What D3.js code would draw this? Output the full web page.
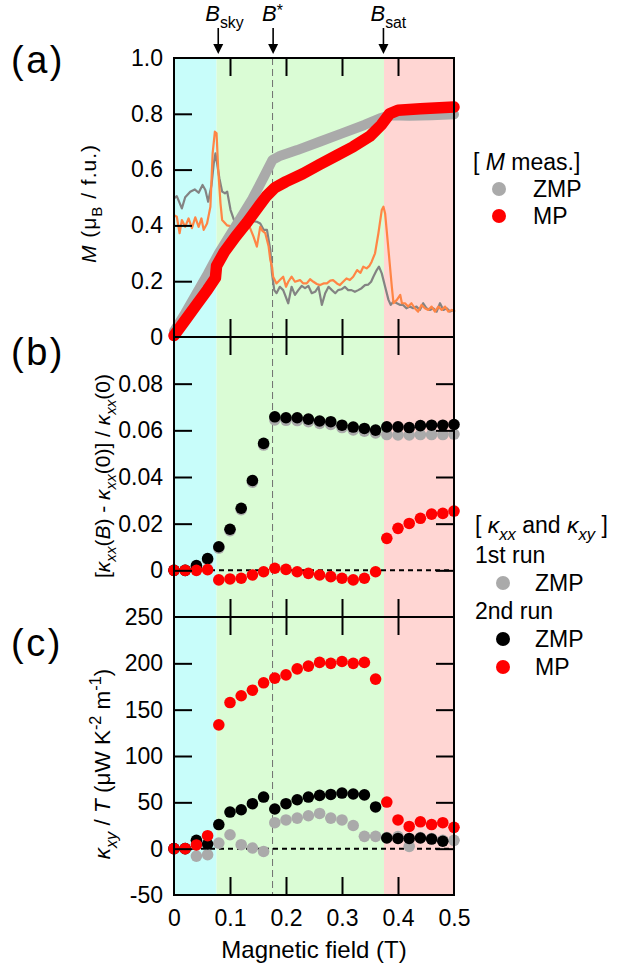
<!DOCTYPE html>
<html>
<head>
<meta charset="utf-8">
<script src="https://cdn.jsdelivr.net/npm/d3@7"></script>
<style>
  html, body { margin: 0; padding: 0; background: #fff; }
  svg { display: block; }
  text { font-family: "Liberation Sans", Arial, Helvetica, sans-serif; fill: #000; }
</style>
</head>
<body>
<svg id="chart" width="622" height="974"></svg>
<script>
// ---- tick values ----
const fieldTicks = [0, 0.1, 0.2, 0.3, 0.4, 0.5];
const mTicks = [0, 0.2, 0.4, 0.6, 0.8, 1.0];
const kxxTicks = [0, 0.02, 0.04, 0.06, 0.08];
const kxyTicks = [-50, 0, 50, 100, 150, 200, 250];

// ---- field regions and characteristic fields (T) ----
const regionEdges = [0, 0.076, 0.375, 0.5];
const regionColors = ["#c8fdfa", "#dafcd5", "#ffd6d3"];
const markerNames = ["sky", "star", "sat"];
const markerFields = [0.079, 0.177, 0.374];
const bStar = 0.176;

// ---- magnetization M (μB / f.u.) ----
const mZmp = [[0.000,0.020],[0.020,0.085],[0.040,0.155],[0.060,0.225],[0.080,0.300],[0.100,0.365],[0.120,0.430],[0.140,0.495],[0.160,0.572],[0.176,0.635],[0.190,0.650],[0.220,0.670],[0.260,0.700],[0.300,0.730],[0.340,0.760],[0.370,0.785],[0.385,0.795],[0.420,0.793],[0.460,0.795],[0.500,0.798]];
const mMp = [[0.000,0.005],[0.020,0.060],[0.040,0.115],[0.060,0.170],[0.074,0.212],[0.076,0.255],[0.090,0.305],[0.110,0.360],[0.130,0.410],[0.150,0.465],[0.165,0.505],[0.180,0.535],[0.200,0.557],[0.230,0.585],[0.260,0.618],[0.290,0.650],[0.320,0.682],[0.350,0.720],[0.370,0.760],[0.385,0.800],[0.400,0.813],[0.440,0.818],[0.500,0.824]];

// ---- dM/dB traces (arb. units, on the M axis) ----
const dmZmp = [[0.000,0.497],[0.005,0.505],[0.014,0.461],[0.020,0.501],[0.029,0.521],[0.037,0.529],[0.044,0.517],[0.051,0.545],[0.056,0.527],[0.061,0.485],[0.067,0.545],[0.071,0.622],[0.074,0.658],[0.077,0.622],[0.081,0.569],[0.086,0.521],[0.091,0.515],[0.095,0.521],[0.101,0.455],[0.107,0.420],[0.115,0.405],[0.125,0.410],[0.135,0.400],[0.142,0.415],[0.148,0.413],[0.154,0.407],[0.160,0.384],[0.166,0.384],[0.172,0.312],[0.175,0.228],[0.179,0.168],[0.183,0.157],[0.189,0.180],[0.195,0.168],[0.204,0.121],[0.210,0.180],[0.216,0.151],[0.222,0.168],[0.228,0.183],[0.234,0.175],[0.240,0.183],[0.246,0.157],[0.252,0.162],[0.258,0.180],[0.264,0.115],[0.270,0.157],[0.276,0.180],[0.282,0.168],[0.288,0.157],[0.293,0.168],[0.299,0.171],[0.305,0.180],[0.311,0.168],[0.317,0.168],[0.323,0.162],[0.329,0.168],[0.335,0.175],[0.341,0.186],[0.347,0.188],[0.352,0.198],[0.356,0.216],[0.362,0.240],[0.366,0.252],[0.371,0.228],[0.377,0.180],[0.383,0.133],[0.387,0.115],[0.392,0.127],[0.398,0.121],[0.404,0.115],[0.409,0.115],[0.415,0.103],[0.421,0.109],[0.427,0.103],[0.433,0.109],[0.439,0.097],[0.445,0.121],[0.451,0.103],[0.457,0.097],[0.463,0.103],[0.469,0.091],[0.475,0.121],[0.481,0.097],[0.487,0.103],[0.493,0.091],[0.499,0.097]];
const dmMp = [[0.000,0.437],[0.005,0.431],[0.010,0.372],[0.014,0.419],[0.020,0.395],[0.026,0.425],[0.032,0.390],[0.038,0.429],[0.044,0.395],[0.049,0.425],[0.053,0.384],[0.059,0.407],[0.065,0.467],[0.069,0.658],[0.073,0.736],[0.076,0.730],[0.079,0.599],[0.083,0.479],[0.086,0.419],[0.095,0.400],[0.105,0.395],[0.115,0.405],[0.125,0.400],[0.135,0.395],[0.142,0.360],[0.148,0.324],[0.154,0.395],[0.158,0.380],[0.163,0.372],[0.169,0.324],[0.172,0.276],[0.175,0.252],[0.177,0.216],[0.183,0.192],[0.189,0.204],[0.195,0.216],[0.200,0.180],[0.204,0.198],[0.210,0.216],[0.216,0.198],[0.225,0.204],[0.231,0.192],[0.237,0.192],[0.243,0.207],[0.249,0.198],[0.255,0.190],[0.261,0.186],[0.267,0.192],[0.273,0.192],[0.279,0.202],[0.284,0.204],[0.291,0.192],[0.296,0.186],[0.302,0.198],[0.308,0.210],[0.314,0.204],[0.320,0.216],[0.327,0.240],[0.333,0.230],[0.338,0.252],[0.344,0.246],[0.349,0.255],[0.353,0.270],[0.359,0.300],[0.365,0.372],[0.371,0.455],[0.374,0.467],[0.377,0.443],[0.383,0.312],[0.389,0.180],[0.392,0.121],[0.398,0.133],[0.404,0.151],[0.407,0.121],[0.4125,0.121],[0.418,0.109],[0.424,0.121],[0.430,0.103],[0.436,0.091],[0.442,0.115],[0.448,0.103],[0.454,0.097],[0.460,0.109],[0.466,0.091],[0.472,0.109],[0.478,0.097],[0.484,0.109],[0.490,0.091],[0.496,0.097],[0.502,0.091]];

// ---- thermal conductivity runs, field steps of 0.02 T ----
const runFields = [0, 0.02, 0.04, 0.06, 0.08, 0.10, 0.12, 0.14, 0.16, 0.18, 0.20, 0.22, 0.24, 0.26, 0.28, 0.30, 0.32, 0.34, 0.36, 0.38, 0.40, 0.42, 0.44, 0.46, 0.48, 0.50];

// [κxx(B) - κxx(0)] / κxx(0)
const kxxRun1Zmp = [0, 0, 0.0015, 0.0045, 0.0095, 0.017, 0.026, 0.0378, 0.0537, 0.0645, 0.0643, 0.0642, 0.0637, 0.063, 0.0625, 0.0612, 0.0602, 0.0596, 0.0589, 0.0582, 0.058, 0.058, 0.0582, 0.0582, 0.0582, 0.0584];
const kxxRun2Zmp = [0, 0, 0.002, 0.005, 0.0101, 0.0176, 0.0266, 0.0385, 0.0544, 0.0658, 0.0654, 0.0654, 0.0648, 0.064, 0.0637, 0.0622, 0.0614, 0.0608, 0.0601, 0.0615, 0.0615, 0.0612, 0.062, 0.0622, 0.0622, 0.0625];
const kxxRun2Mp = [0, 0, 0, 0.0003, -0.0041, -0.0037, -0.0034, -0.002, -0.0006, 0.0009, 0.0004, -0.0006, -0.0013, -0.002, -0.0027, -0.0034, -0.0041, -0.0034, -0.0006, 0.0137, 0.018, 0.0201, 0.0223, 0.0241, 0.0244, 0.0254];

// κxy / T (μW K^-2 m^-1)
const kxyRun1Zmp = [0, 0, -8, -6.5, 6, 15, 4.3, 0.7, -3, 28, 31, 33, 35.5, 38, 33, 31, 25, 13.3, 13.3, 12, 13, 2.5, 12, 11, 9, 9];
const kxyRun2Zmp = [0, 0, 9, 5, 26, 39.5, 42, 48.5, 55.7, 42.8, 48.5, 52.8, 55.7, 57.5, 58.5, 60, 59, 58, 45, 11.5, 11, 11, 11.5, 10.4, 8, null];
const kxyRun2Mp = [0, 0, 4, 14, 133.6, 157.7, 165, 171, 179, 184, 187.5, 194, 197, 201, 200, 202, 200, 201, 183, 50.3, 31, 24, 29, 26, 28, 23];

// ---- layout ----
const FONT = "\"Liberation Sans\", Arial, Helvetica, sans-serif";
const plotLeft = 174, plotRight = 454;
const panels = [
  { key: "a", top: 58, bottom: 337 },
  { key: "b", top: 337, bottom: 617 },
  { key: "c", top: 617, bottom: 895 }
];
const colGrayDot = "#aaaaaa", colBlack = "#000000", colRed = "#ff0000";
const colGrayLine = "#838383", colOrange = "#ff8545";

const svg = d3.select("#chart");
const x = d3.scaleLinear().domain([0, 0.5]).range([plotLeft, plotRight]);
const yA = d3.scaleLinear().domain([0, 1.0]).range([panels[0].bottom, panels[0].top]);
const yB = d3.scaleLinear().domain([-0.02, 0.1]).range([panels[1].bottom, panels[1].top]);
const yC = d3.scaleLinear().domain([-50, 250]).range([panels[2].bottom, panels[2].top]);

// rich text helper: segments {t, it, sub, sup, shift}
function richText(sel, segs, size) {
  let shift = 0;
  segs.forEach(s => {
    const ts = sel.append("tspan").text(s.t);
    let target = s.sub ? size * 0.3 : s.sup ? -size * (s.shift || 0.42) : 0;
    const dy = target - shift;
    if (dy !== 0) ts.attr("dy", dy);
    shift = target;
    ts.attr("font-size", (s.sub || s.sup) ? size * 0.72 : size);
    if (s.it) ts.attr("font-style", "italic");
  });
  return sel;
}

// ---- background regions ----
panels.forEach(p => {
  const g = svg.append("g");
  regionColors.forEach((c, i) => {
    g.append("rect")
      .attr("x", x(regionEdges[i]))
      .attr("y", p.top)
      .attr("width", x(regionEdges[i + 1]) - x(regionEdges[i]))
      .attr("height", p.bottom - p.top)
      .attr("fill", c);
  });
  // B* guide
  g.append("line")
    .attr("x1", x(bStar)).attr("x2", x(bStar))
    .attr("y1", p.top).attr("y2", p.bottom)
    .attr("stroke", "#707070").attr("stroke-width", 1)
    .attr("stroke-dasharray", "7,4");
});

// zero lines in (b) and (c)
[[yB, 0], [yC, 0]].forEach(([ys, v]) => {
  svg.append("line")
    .attr("x1", plotLeft).attr("x2", plotRight)
    .attr("y1", ys(v)).attr("y2", ys(v))
    .attr("stroke", "#000").attr("stroke-width", 2)
    .attr("stroke-dasharray", "5,4");
});

// ---- panel (a): magnetization and dM/dB ----
const lineA = d3.line().x(d => x(d[0])).y(d => yA(d[1]));
svg.append("path").datum(dmZmp).attr("d", lineA)
  .attr("fill", "none").attr("stroke", colGrayLine).attr("stroke-width", 2.2).attr("stroke-linejoin", "round");
svg.append("path").datum(dmMp).attr("d", lineA)
  .attr("fill", "none").attr("stroke", colOrange).attr("stroke-width", 2.2).attr("stroke-linejoin", "round");
svg.append("path").datum(mZmp).attr("d", lineA)
  .attr("fill", "none").attr("stroke", colGrayDot).attr("stroke-width", 10)
  .attr("stroke-linejoin", "round").attr("stroke-linecap", "round");
svg.append("path").datum(mMp).attr("d", lineA)
  .attr("fill", "none").attr("stroke", colRed).attr("stroke-width", 11.5)
  .attr("stroke-linejoin", "round").attr("stroke-linecap", "round");

// ---- panels (b) and (c): dots ----
function dots(vals, ys, color) {
  svg.append("g").selectAll("circle")
    .data(runFields.map((f, i) => [f, vals[i]]).filter(d => d[1] !== null))
    .join("circle")
    .attr("cx", d => x(d[0]))
    .attr("cy", d => ys(d[1]))
    .attr("r", 5.8)
    .attr("fill", color);
}
dots(kxxRun1Zmp, yB, colGrayDot);
dots(kxxRun2Zmp, yB, colBlack);
dots(kxxRun2Mp, yB, colRed);
dots(kxyRun1Zmp, yC, colGrayDot);
dots(kxyRun2Zmp, yC, colBlack);
dots(kxyRun2Mp, yC, colRed);

// ---- axes, ticks, frames ----
const TICK = 18;
function styleAxis(g) {
  g.select(".domain").remove();
  g.selectAll(".tick line").attr("stroke", "#000").attr("stroke-width", 2);
  g.selectAll(".tick text").attr("font-family", FONT).attr("font-size", 23).attr("fill", "#000");
}
const innerFieldTicks = fieldTicks.filter(v => v > 0 && v < 0.5);

panels.forEach((p, i) => {
  svg.append("g").attr("transform", `translate(0,${p.top})`)
    .call(d3.axisTop(x).tickValues(innerFieldTicks).tickSizeInner(-TICK).tickSizeOuter(0).tickFormat(""))
    .call(styleAxis);
  const bottomAxis = d3.axisBottom(x).tickSizeInner(-TICK).tickSizeOuter(0).tickPadding(15);
  if (i === 2) {
    bottomAxis.tickValues(fieldTicks).tickFormat(d => d === 0 ? "0" : d3.format(".1f")(d));
  } else {
    bottomAxis.tickValues(innerFieldTicks).tickFormat("");
  }
  const gb = svg.append("g").attr("transform", `translate(0,${p.bottom})`).call(bottomAxis).call(styleAxis);
  if (i === 2) {
    gb.selectAll(".tick line").filter(d => d === 0 || d === 0.5).remove();
  }
});

// left axes
const leftSpecs = [
  { ys: yA, ticks: mTicks, fmt: d => d === 0 ? "0" : d3.format(".1f")(d) },
  { ys: yB, ticks: kxxTicks, fmt: d => d === 0 ? "0" : d3.format(".2f")(d) },
  { ys: yC, ticks: kxyTicks, fmt: d => String(d) }
];
leftSpecs.forEach((s, i) => {
  const g = svg.append("g").attr("transform", `translate(${plotLeft},0)`)
    .call(d3.axisLeft(s.ys).tickValues(s.ticks).tickSizeInner(-TICK).tickSizeOuter(0).tickPadding(11).tickFormat(s.fmt))
    .call(styleAxis);
  const dom = s.ys.domain();
  g.selectAll(".tick line").filter(d => d <= dom[0] || d >= dom[1]).remove();
  if (i > 0) {
    const gr = svg.append("g").attr("transform", `translate(${plotRight},0)`)
      .call(d3.axisRight(s.ys).tickValues(s.ticks).tickSizeInner(-TICK).tickSizeOuter(0).tickFormat(""))
      .call(styleAxis);
    gr.selectAll(".tick line").filter(d => d <= dom[0] || d >= dom[1]).remove();
  }
});

// frames
panels.forEach(p => {
  svg.append("rect")
    .attr("x", plotLeft).attr("y", p.top)
    .attr("width", plotRight - plotLeft).attr("height", p.bottom - p.top)
    .attr("fill", "none").attr("stroke", "#000").attr("stroke-width", 2);
});

// ---- panel letters ----
[["(a)", 73], ["(b)", 365], ["(c)", 656]].forEach(([t, yb]) => {
  svg.append("text").attr("x", 11).attr("y", yb)
    .attr("font-size", 38).attr("letter-spacing", 2.5).text(t);
});

// ---- y-axis titles ----
function yTitle(cx, cy, segs, size, len) {
  const t = svg.append("text")
    .attr("transform", `translate(${cx},${cy}) rotate(-90)`)
    .attr("text-anchor", "middle")
    .attr("font-size", size);
  if (len) t.attr("textLength", len).attr("lengthAdjust", "spacing");
  richText(t, segs, size);
}
yTitle(96, 204, [{ t: "M", it: true }, { t: " (μ" }, { t: "B", sub: true }, { t: " / f.u.)" }], 21, 118);
yTitle(110, 476, [{ t: "[" }, { t: "κ", it: true }, { t: "xx", it: true, sub: true }, { t: "(" }, { t: "B", it: true }, { t: ") - " }, { t: "κ", it: true }, { t: "xx", it: true, sub: true }, { t: "(0)] / " }, { t: "κ", it: true }, { t: "xx", it: true, sub: true }, { t: "(0)" }], 21);
yTitle(110, 764, [{ t: "κ", it: true }, { t: "xy", it: true, sub: true }, { t: " / " }, { t: "T", it: true }, { t: " (μW K" }, { t: "-2", sup: true }, { t: " m" }, { t: "-1", sup: true }, { t: ")" }], 22.5);

// ---- x-axis title ----
svg.append("text").attr("x", x(0.25)).attr("y", 958)
  .attr("text-anchor", "middle").attr("font-size", 24).text("Magnetic field (T)");

// ---- characteristic field arrows ----
const markerLabels = {
  sky: [{ t: "B", it: true }, { t: "sky", sub: true }],
  star: [{ t: "B", it: true }, { t: "*", sup: true, shift: 0.22 }],
  sat: [{ t: "B", it: true }, { t: "sat", sub: true }]
};
markerNames.forEach((name, i) => {
  const xf = x(markerFields[i]);
  svg.append("line").attr("x1", xf).attr("x2", xf).attr("y1", 28).attr("y2", 46)
    .attr("stroke", "#000").attr("stroke-width", 1.6);
  svg.append("path")
    .attr("d", `M${xf - 5},${44} L${xf + 5},${44} L${xf},${54} Z`)
    .attr("fill", "#000");
  const t = svg.append("text").attr("x", name === "star" ? xf - 11 : xf - 13).attr("y", 21).attr("font-size", 22);
  richText(t, markerLabels[name], 22);
});

// ---- legends ----
function legendText(xp, yp, segs, size) {
  const t = svg.append("text").attr("x", xp).attr("y", yp).attr("font-size", size);
  richText(t, segs, size);
}
legendText(473, 170, [{ t: "[ " }, { t: "M", it: true }, { t: " meas.]" }], 23);
svg.append("circle").attr("cx", 499).attr("cy", 189).attr("r", 7).attr("fill", colGrayDot);
legendText(533, 197, [{ t: "ZMP" }], 23);
svg.append("circle").attr("cx", 499).attr("cy", 216).attr("r", 7).attr("fill", colRed);
legendText(533, 224, [{ t: "MP" }], 23);

legendText(475, 533, [{ t: "[ " }, { t: "κ", it: true }, { t: "xx", it: true, sub: true }, { t: " and " }, { t: "κ", it: true }, { t: "xy", it: true, sub: true }, { t: " ]" }], 23);
legendText(475, 563, [{ t: "1st run" }], 23);
svg.append("circle").attr("cx", 503).attr("cy", 583).attr("r", 7).attr("fill", colGrayDot);
legendText(535, 591, [{ t: "ZMP" }], 23);
legendText(475, 619, [{ t: "2nd run" }], 23);
svg.append("circle").attr("cx", 503).attr("cy", 639).attr("r", 7).attr("fill", colBlack);
legendText(535, 647, [{ t: "ZMP" }], 23);
svg.append("circle").attr("cx", 503).attr("cy", 667).attr("r", 7).attr("fill", colRed);
legendText(535, 675, [{ t: "MP" }], 23);
</script>
</body>
</html>
